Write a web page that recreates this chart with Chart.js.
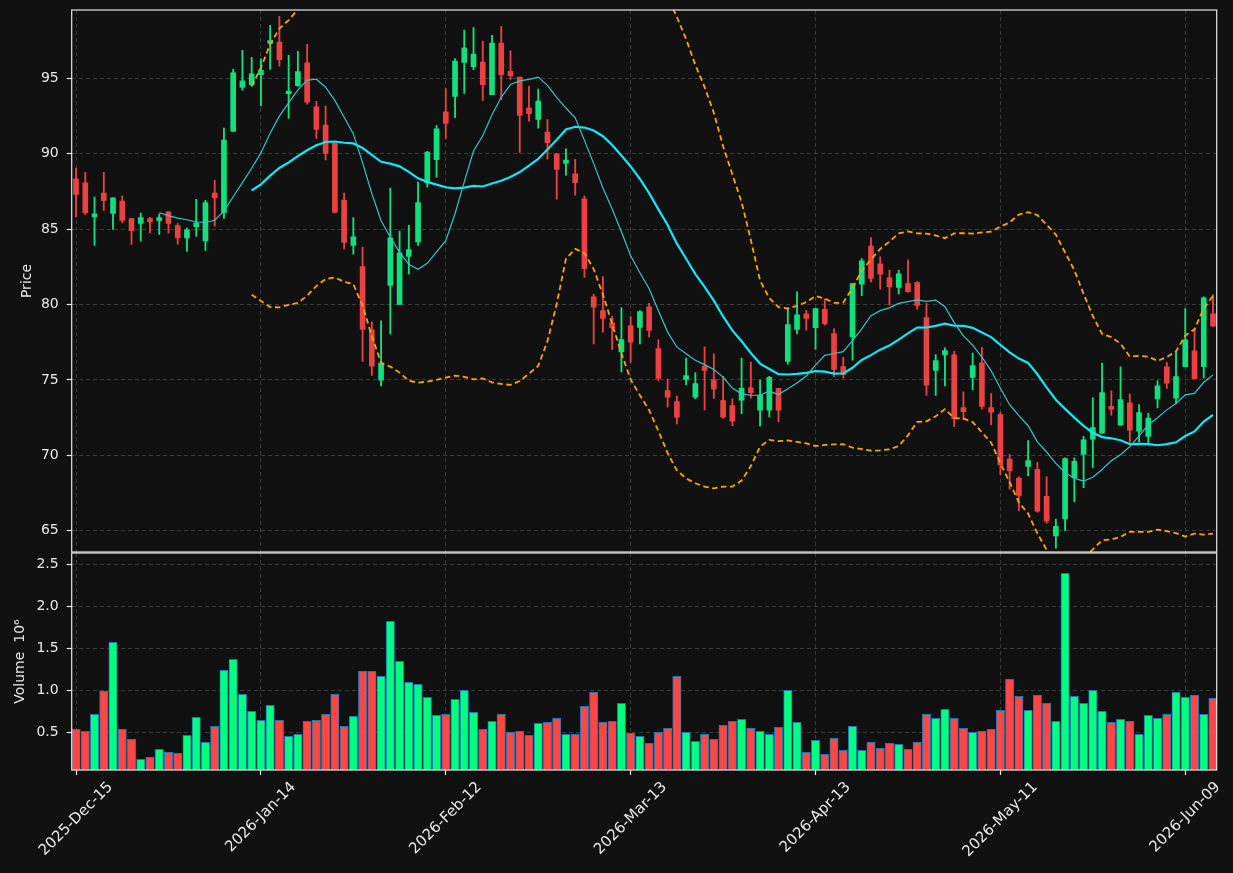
<!DOCTYPE html>
<html>
<head>
<meta charset="utf-8">
<script src="https://cdn.jsdelivr.net/npm/chart.js@4.4.1/dist/chart.umd.min.js"></script>
<style>
  html, body { margin: 0; padding: 0; background: #111111; }
  #wrap { position: relative; width: 1233px; height: 873px; overflow: hidden; background: #111111; }
  canvas { position: absolute; left: 0; }
  #priceCanvas { top: 0; }
  #volumeCanvas { top: 552px; }
</style>
</head>
<body>
<div id="wrap">
  <canvas id="priceCanvas" width="1233" height="553"></canvas>
  <canvas id="volumeCanvas" width="1233" height="321"></canvas>
</div>
<script>
// Daily OHLC (index 0 = 2025-Dec-15)
const opens = [
  88.35, 88.07, 85.81, 87.40, 86.04, 86.87, 85.70, 85.38, 85.70, 85.56,
  86.16, 85.24, 84.43, 85.17, 84.22, 87.40, 86.09, 91.48, 94.40, 94.59,
  95.25, 97.33, 97.42, 93.99, 94.52, 96.04, 93.11, 91.91, 90.72, 86.94,
  83.92, 82.52, 78.33, 74.99, 81.28, 80.01, 83.19, 84.16, 88.07, 89.61,
  92.79, 93.80, 96.06, 95.78, 96.08, 93.92, 97.35, 95.48, 95.09, 93.04,
  92.28, 91.45, 90.00, 89.36, 88.67, 87.01, 80.52, 79.60, 78.79, 76.86,
  78.61, 78.49, 79.85, 77.09, 74.30, 73.56, 75.04, 73.86, 75.93, 75.01,
  73.63, 73.31, 73.66, 74.48, 72.99, 72.99, 74.44, 76.23, 78.35, 79.39,
  78.47, 79.69, 78.08, 75.89, 77.85, 81.35, 83.88, 82.70, 81.78, 81.14,
  81.39, 81.46, 79.14, 75.64, 76.67, 76.67, 73.17, 75.17, 76.14, 73.17,
  72.71, 69.75, 68.50, 69.26, 69.07, 67.28, 64.65, 65.78, 68.50, 70.06,
  71.08, 71.47, 73.26, 72.00, 73.49, 71.61, 71.26, 73.75, 75.87, 73.79,
  75.89, 76.93, 75.89, 79.39
];
const highs = [
  89.06, 88.78, 87.13, 88.78, 87.08, 87.19, 85.70, 86.07, 85.79, 86.00,
  86.16, 85.38, 85.08, 86.99, 86.92, 88.25, 91.71, 95.60, 96.87, 96.40,
  96.30, 98.52, 99.12, 96.54, 96.80, 97.26, 93.48, 93.16, 90.72, 87.40,
  85.77, 83.81, 78.86, 78.93, 87.72, 84.87, 85.26, 88.12, 90.16, 91.87,
  94.33, 96.31, 98.20, 98.38, 97.46, 97.86, 98.45, 96.84, 95.09, 94.47,
  94.29, 92.28, 90.00, 90.33, 89.64, 87.19, 80.70, 81.85, 79.23, 79.78,
  79.20, 79.60, 80.08, 77.66, 75.06, 73.93, 76.46, 75.47, 77.20, 76.74,
  75.24, 73.75, 76.46, 76.19, 74.99, 75.24, 74.44, 79.78, 80.84, 79.62,
  79.73, 80.38, 78.40, 76.51, 81.39, 83.05, 84.45, 83.16, 82.29, 82.29,
  82.96, 81.53, 80.08, 76.69, 77.13, 76.90, 74.21, 76.79, 77.15, 74.09,
  72.83, 70.06, 68.57, 70.98, 69.53, 68.57, 65.78, 69.83, 69.83, 71.26,
  73.82, 76.12, 74.28, 75.87, 74.07, 73.36, 72.78, 74.94, 76.17, 76.86,
  79.73, 78.40, 80.52, 80.66
];
const lows = [
  85.81, 85.97, 83.92, 86.25, 84.98, 85.44, 83.99, 84.20, 84.75, 84.66,
  84.73, 84.00, 83.53, 84.52, 83.60, 85.21, 85.72, 91.48, 94.22, 94.50,
  93.18, 95.60, 95.81, 92.35, 94.47, 93.30, 91.02, 89.59, 86.11, 83.69,
  83.35, 76.23, 75.31, 74.60, 78.05, 80.01, 82.04, 83.92, 87.79, 88.46,
  91.02, 92.40, 94.01, 95.58, 93.55, 93.92, 93.60, 94.93, 90.10, 92.17,
  91.71, 89.64, 86.99, 88.58, 87.26, 81.81, 77.39, 78.17, 77.02, 75.54,
  76.17, 77.39, 77.85, 74.94, 73.22, 72.09, 74.67, 73.75, 73.01, 73.78,
  72.46, 71.97, 72.76, 73.80, 71.95, 72.55, 72.23, 76.05, 78.05, 78.31,
  77.03, 78.63, 75.22, 75.13, 76.32, 80.59, 81.51, 81.02, 79.96, 80.70,
  80.83, 79.69, 73.98, 73.98, 74.60, 71.90, 72.37, 74.34, 73.06, 72.02,
  68.73, 67.76, 66.33, 68.64, 66.24, 65.50, 63.85, 65.00, 66.93, 67.85,
  69.19, 71.45, 72.66, 72.00, 70.85, 70.89, 70.69, 73.15, 74.44, 73.45,
  75.89, 75.08, 75.13, 78.54
];
const closes = [
  87.31, 86.09, 86.02, 86.89, 87.08, 85.58, 84.91, 85.77, 85.49, 85.77,
  85.38, 84.43, 84.96, 85.40, 86.76, 87.08, 90.92, 95.37, 94.84, 95.30,
  95.55, 97.51, 96.24, 94.17, 95.46, 93.43, 91.62, 90.03, 86.11, 84.13,
  84.50, 78.35, 75.91, 76.12, 84.43, 83.44, 83.65, 86.76, 90.12, 91.66,
  92.01, 96.15, 97.03, 96.61, 94.59, 97.35, 95.25, 95.18, 92.54, 92.67,
  93.50, 90.74, 88.97, 89.59, 88.09, 82.38, 79.83, 79.09, 78.49, 77.68,
  77.50, 79.53, 78.28, 75.11, 73.86, 72.53, 75.29, 74.76, 75.64, 74.39,
  72.53, 72.27, 74.44, 74.16, 73.98, 75.18, 72.99, 78.67, 79.32, 79.09,
  79.73, 78.74, 75.70, 75.36, 81.39, 82.91, 81.74, 82.01, 81.18, 82.04,
  80.86, 79.94, 74.65, 76.28, 76.95, 72.41, 72.90, 75.96, 73.24, 72.87,
  69.37, 68.96, 67.35, 69.65, 66.29, 65.64, 65.30, 69.79, 69.60, 71.03,
  71.84, 74.16, 73.06, 73.70, 71.67, 72.83, 72.48, 74.62, 74.78, 75.22,
  77.66, 75.08, 80.45, 78.59
];
// Volume in millions
const volumes = [
  0.536, 0.512, 0.714, 0.990, 1.571, 0.536, 0.417, 0.179, 0.202, 0.298,
  0.262, 0.250, 0.464, 0.679, 0.381, 0.571, 1.238, 1.369, 0.952, 0.750,
  0.643, 0.821, 0.643, 0.452, 0.476, 0.631, 0.643, 0.714, 0.952, 0.571,
  0.690, 1.226, 1.226, 1.167, 1.821, 1.345, 1.095, 1.071, 0.917, 0.702,
  0.714, 0.893, 1.000, 0.738, 0.536, 0.631, 0.714, 0.500, 0.512, 0.464,
  0.607, 0.619, 0.667, 0.476, 0.476, 0.810, 0.976, 0.619, 0.631, 0.845,
  0.488, 0.452, 0.369, 0.500, 0.548, 1.167, 0.500, 0.393, 0.476, 0.417,
  0.583, 0.631, 0.655, 0.548, 0.512, 0.476, 0.560, 1.000, 0.619, 0.262,
  0.405, 0.238, 0.429, 0.286, 0.571, 0.286, 0.381, 0.310, 0.369, 0.357,
  0.298, 0.381, 0.714, 0.667, 0.774, 0.667, 0.548, 0.500, 0.512, 0.536,
  0.762, 1.131, 0.929, 0.762, 0.940, 0.845, 0.631, 2.393, 0.929, 0.845,
  1.000, 0.750, 0.619, 0.655, 0.631, 0.476, 0.702, 0.667, 0.714, 0.976,
  0.917, 0.940, 0.714, 0.905
];
const tickIndex = [0, 20, 40, 60, 80, 100, 120];
const tickLabels = ['2025-Dec-15', '2026-Jan-14', '2026-Feb-12', '2026-Mar-13', '2026-Apr-13', '2026-May-11', '2026-Jun-09'];
const priceTicks = [65, 70, 75, 80, 85, 90, 95];
const volumeTicks = [0.5, 1.0, 1.5, 2.0, 2.5];

const COLORS = {
  bg: '#111111',
  up: '#12e07f',
  down: '#ea4242',
  volUp: '#00ff80',
  volDown: '#ff4646',
  volEdge: '#1f77b4',
  ma10: '#3ec3c6',
  ma20: '#16e6f8',
  band: '#ffa500',
  grid: '#3c3c3c',
  frame: '#e8e8e8',
  text: '#e8e8e8'
};
const FONT = { family: 'DejaVu Sans', size: 14 };
const DATE_FONT_SIZE = 15;
const X_MIN = -0.47, X_MAX = 123.4;
const AXIS_WIDTH = 71.7;

// simple moving average of the closes
function sma(values, n) {
  const out = [];
  for (let i = n - 1; i < values.length; i++) {
    let s = 0;
    for (let k = i - n + 1; k <= i; k++) s += values[k];
    out.push({ x: i, y: s / n });
  }
  return out;
}

// bollinger bands (population std) around the n-day average
function bands(values, n, mult) {
  const upper = [], lower = [];
  for (let i = n - 1; i < values.length; i++) {
    let s = 0;
    for (let k = i - n + 1; k <= i; k++) s += values[k];
    const mean = s / n;
    let v = 0;
    for (let k = i - n + 1; k <= i; k++) v += (values[k] - mean) ** 2;
    const sd = Math.sqrt(v / n);
    upper.push({ x: i, y: mean + mult * sd });
    lower.push({ x: i, y: mean - mult * sd });
  }
  return { upper, lower };
}

const isUp = closes.map((c, i) => c >= opens[i]);
const candleColors = isUp.map(u => u ? COLORS.up : COLORS.down);
const volColors = isUp.map(u => u ? COLORS.volUp : COLORS.volDown);
const bb = bands(closes, 20, 2);

const framePlugin = {
  id: 'frame',
  afterDraw(chart) {
    const { ctx, chartArea: a } = chart;
    ctx.save();
    ctx.strokeStyle = COLORS.frame;
    ctx.lineWidth = 1.2;
    ctx.strokeRect(a.left, a.top, a.right - a.left, a.bottom - a.top);
    ctx.restore();
  }
};

// date labels, rotated 45 deg and centred under the tick
const dateLabelPlugin = {
  id: 'dateLabels',
  afterDraw(chart) {
    const { ctx, chartArea: a, scales } = chart;
    ctx.save();
    ctx.font = DATE_FONT_SIZE + 'px "' + FONT.family + '"';
    ctx.fillStyle = COLORS.text;
    ctx.textAlign = 'center';
    ctx.textBaseline = 'middle';
    const h = DATE_FONT_SIZE * 1.17;
    tickIndex.forEach((idx, j) => {
      const x = scales.x.getPixelForValue(idx);
      const w = ctx.measureText(tickLabels[j]).width;
      const boxH = (w + h) * Math.SQRT1_2;
      const y = a.bottom + 5 + 3.5 + boxH / 2;
      ctx.save();
      ctx.translate(x, y);
      ctx.rotate(-Math.PI / 4);
      ctx.fillText(tickLabels[j], 0, 0);
      ctx.restore();
    });
    ctx.restore();
  }
};

function xAxis(showTicks) {
  return {
    type: 'linear',
    min: X_MIN,
    max: X_MAX,
    offset: false,
    afterBuildTicks: s => { s.ticks = tickIndex.map(v => ({ value: v })); },
    afterFit: s => {
      s.height = showTicks ? 103 : 0;
      s.paddingLeft = 0;
      s.paddingRight = 0;
    },
    ticks: { display: false },
    grid: {
      offset: false,
      color: COLORS.grid,
      lineWidth: 1,
      drawTicks: showTicks,
      tickLength: 5,
      tickColor: COLORS.frame,
      tickWidth: 1.2,
      tickBorderDash: []
    },
    border: { display: false, dash: [4, 3] }
  };
}

function yAxis(values, min, max, title, titlePad, fmt) {
  return {
    type: 'linear',
    position: 'left',
    min: min,
    max: max,
    afterBuildTicks: s => { s.ticks = values.map(v => ({ value: v })); },
    afterFit: s => {
      s.width = AXIS_WIDTH;
      s.paddingTop = 0;
      s.paddingBottom = 0;
    },
    ticks: { color: COLORS.text, font: FONT, padding: 8, callback: fmt },
    grid: {
      color: COLORS.grid,
      lineWidth: 1,
      tickLength: 5,
      tickColor: COLORS.frame,
      tickWidth: 1.2,
      tickBorderDash: []
    },
    border: { display: false, dash: [4, 3] },
    title: {
      display: true,
      text: title,
      color: COLORS.text,
      font: FONT,
      padding: { top: titlePad, bottom: titlePad }
    }
  };
}

new Chart(document.getElementById('priceCanvas'), {
  type: 'bar',
  data: {
    datasets: [
      {
        type: 'line', label: 'MA10', data: sma(closes, 10), order: 0,
        borderColor: COLORS.ma10, borderWidth: 1.2, pointRadius: 0, tension: 0
      },
      {
        type: 'line', label: 'MA20', data: sma(closes, 20), order: 0,
        borderColor: COLORS.ma20, borderWidth: 2.2, pointRadius: 0, tension: 0
      },
      {
        type: 'line', label: 'Upper', data: bb.upper, order: 0,
        borderColor: COLORS.band, borderWidth: 1.8, borderDash: [5.5, 3.5], pointRadius: 0, tension: 0
      },
      {
        type: 'line', label: 'Lower', data: bb.lower, order: 0,
        borderColor: COLORS.band, borderWidth: 1.8, borderDash: [5.5, 3.5], pointRadius: 0, tension: 0
      },
      {
        label: 'Body', order: 1, grouped: false,
        data: opens.map((o, i) => ({ x: i, y: [o, closes[i]] })),
        backgroundColor: candleColors, barThickness: 5, minBarLength: 1, borderWidth: 0
      },
      {
        label: 'Wick', order: 2, grouped: false,
        data: lows.map((l, i) => ({ x: i, y: [l, highs[i]] })),
        backgroundColor: candleColors, barThickness: 1.2, borderWidth: 0
      }
    ]
  },
  options: {
    responsive: false,
    animation: false,
    devicePixelRatio: 1,
    events: [],
    layout: { padding: { top: 10, right: 16.3, bottom: 1, left: 0 } },
    plugins: { legend: { display: false }, tooltip: { enabled: false } },
    scales: {
      x: xAxis(false),
      y: yAxis(priceTicks, 63.59, 99.54, 'Price', 18.6, v => String(v))
    }
  },
  plugins: [framePlugin]
});

new Chart(document.getElementById('volumeCanvas'), {
  type: 'bar',
  data: {
    datasets: [{
      label: 'Volume',
      data: volumes.map((v, i) => ({ x: i, y: v })),
      backgroundColor: volColors,
      borderColor: COLORS.volEdge,
      borderWidth: 1,
      borderSkipped: false,
      barThickness: 8.4
    }]
  },
  options: {
    responsive: false,
    animation: false,
    devicePixelRatio: 1,
    events: [],
    layout: { padding: { top: 1, right: 16.3, bottom: 0, left: 0 } },
    plugins: { legend: { display: false }, tooltip: { enabled: false } },
    scales: {
      x: xAxis(true),
      y: yAxis(volumeTicks, 0.051, 2.635, 'Volume  10\u2076', 11.6, v => v.toFixed(1))
    }
  },
  plugins: [framePlugin, dateLabelPlugin]
});
</script>
</body>
</html>
